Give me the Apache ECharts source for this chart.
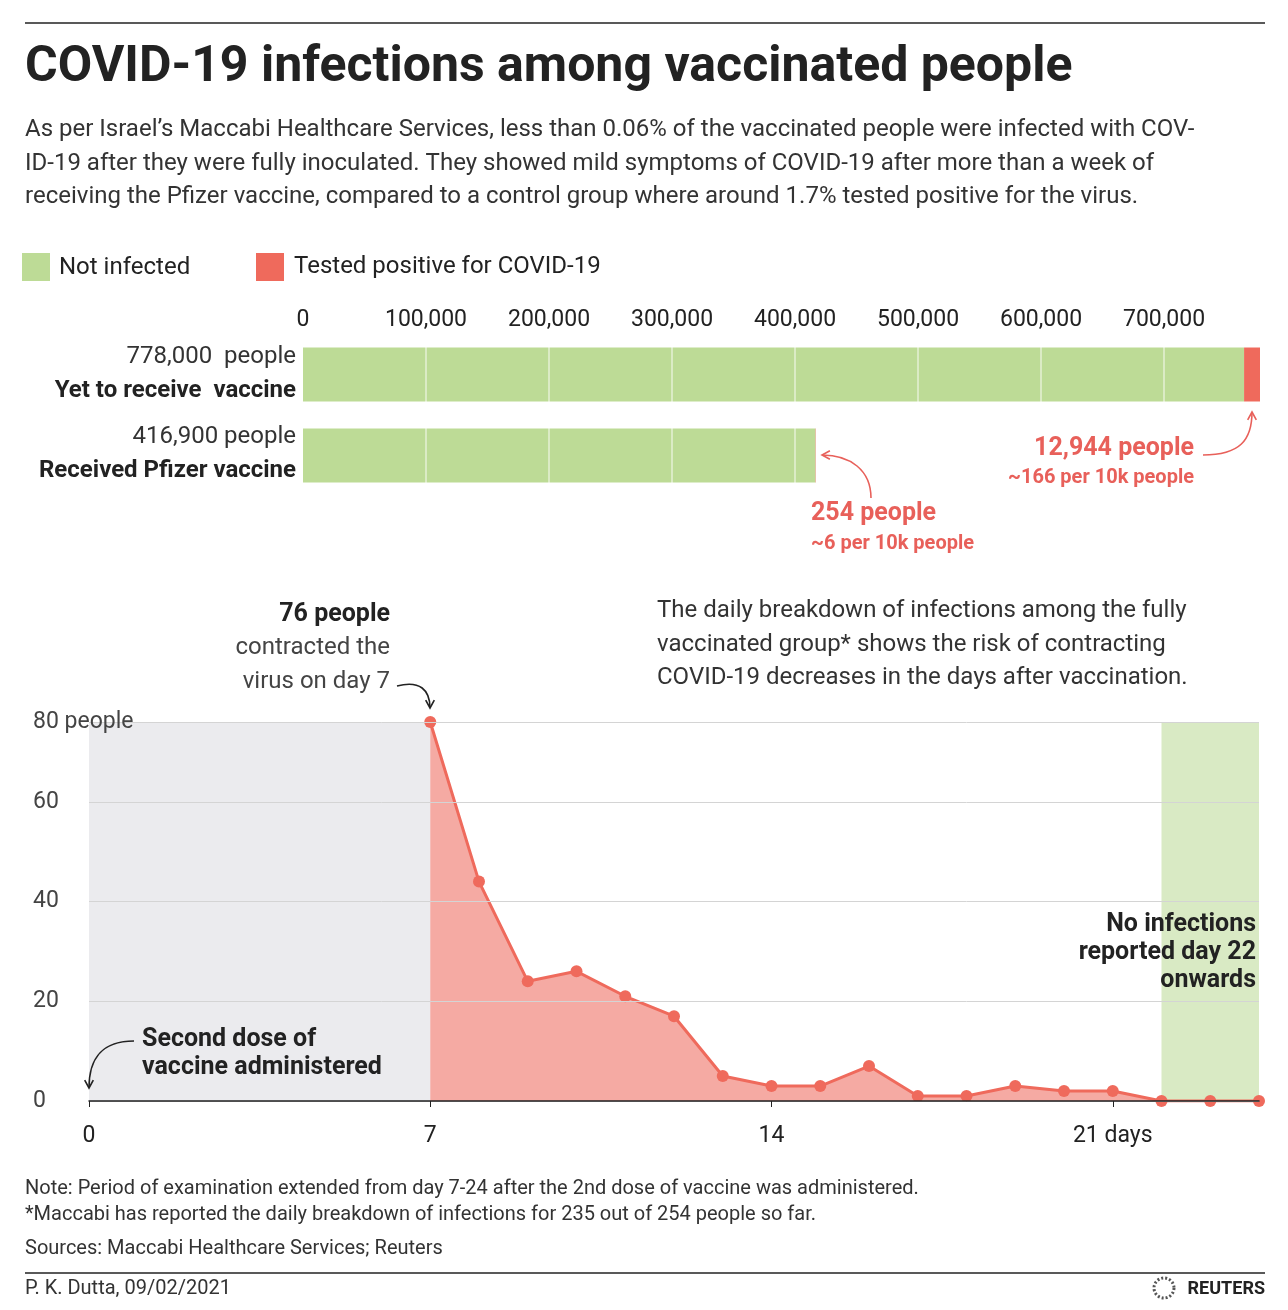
<!DOCTYPE html>
<html>
<head>
<meta charset="utf-8">
<script src="https://cdn.jsdelivr.net/npm/echarts@6/dist/echarts.min.js"></script>
<style>
  body { margin: 0; background: #fff; }
  #chart { width: 1288px; height: 1310px; }
</style>
</head>
<body>
<div id="chart"></div>
<script>
// bar part
const groups = ["Yet to receive  vaccine", "Received Pfizer vaccine"];
const groupTotals = ["778,000  people", "416,900 people"];
const notInfected = [765056, 416646];
const positive = [12944, 254];
const barTicks = [100000, 200000, 300000, 400000, 500000, 600000, 700000];

// daily breakdown, days 7..24
const days = [7, 8, 9, 10, 11, 12, 13, 14, 15, 16, 17, 18, 19, 20, 21, 22, 23, 24];
const dailyCases = [76, 44, 24, 26, 21, 17, 5, 3, 3, 7, 1, 1, 3, 2, 2, 0, 0, 0];

const GREEN = "#bddb96";
const RED = "#ef6a5c";
const TXT = "#222";
const FONT = "Roboto";

const chart = echarts.init(document.getElementById("chart"));

function txt(x, y, text, opt = {}) {
  return {
    type: "text", x, y, z: 100,
    style: Object.assign({ text, fill: TXT, font: `24px ${FONT}`, textVerticalAlign: "middle" }, opt),
  };
}
function arrowHead(x, y, angle, color) {
  const l = 9, w = 0.5;
  return {
    type: "polyline", z: 100,
    shape: { points: [
      [x - l * Math.cos(angle - w), y - l * Math.sin(angle - w)],
      [x, y],
      [x - l * Math.cos(angle + w), y - l * Math.sin(angle + w)],
    ] },
    style: { stroke: color, lineWidth: 1.6, fill: null },
  };
}
function curve(pts, color) {
  return {
    type: "bezierCurve", z: 100,
    shape: { x1: pts[0], y1: pts[1], cpx1: pts[2], cpy1: pts[3], cpx2: pts[4], cpy2: pts[5], x2: pts[6], y2: pts[7] },
    style: { stroke: color, lineWidth: 1.6, fill: null },
  };
}

const option = {
  animation: false,
  grid: [
    { left: 303, right: 28, top: 334, height: 162 },
    { left: 89, right: 29, top: 722, bottom: 209 },
  ],
  xAxis: [
    {
      gridIndex: 0, type: "value", min: 0, max: 778000, position: "top",
      interval: 100000,
      axisLine: { show: false }, axisTick: { show: false }, splitLine: { show: false },
      axisLabel: {
        color: TXT, fontSize: 23, fontFamily: FONT, margin: 2, showMaxLabel: false,
        formatter: (v) => v.toLocaleString("en-US"),
      },
    },
    {
      gridIndex: 1, type: "value", min: 0, max: 24, interval: 7, z: 10,
      axisLine: { lineStyle: { color: "#222", width: 1.5 } },
      axisTick: { show: true, length: 6, lineStyle: { color: "#222" } },
      splitLine: { show: false },
      axisLabel: {
        color: TXT, fontSize: 23, fontFamily: FONT, margin: 24, showMaxLabel: false,
        formatter: (v) => (v === 21 ? "21 days" : String(v)),
      },
    },
  ],
  yAxis: [
    {
      gridIndex: 0, type: "category", data: groups, inverse: true, show: false,
    },
    {
      gridIndex: 1, type: "value", min: 0, max: 76, interval: 20, z: 10,
      axisLine: { show: false }, axisTick: { show: false },
      splitLine: { lineStyle: { color: "#d4d4d4" } },
      axisLabel: {
        color: "#444", fontSize: 23, fontFamily: FONT, margin: 56, align: "left",
        formatter: (v) => (v === 76 ? "80 people" : String(v)),
      },
    },
  ],
  series: [
    {
      type: "bar", stack: "s", xAxisIndex: 0, yAxisIndex: 0, data: notInfected,
      barWidth: 54, itemStyle: { color: GREEN },
      markLine: {
        silent: true, symbol: "none", label: { show: false },
        lineStyle: { color: "rgba(255,255,255,0.45)", type: "solid", width: 2 },
        data: barTicks.map((v) => ({ xAxis: v })),
      },
    },
    {
      type: "bar", stack: "s", xAxisIndex: 0, yAxisIndex: 0, data: positive,
      barWidth: 54, itemStyle: { color: RED },
    },
    {
      type: "line", xAxisIndex: 1, yAxisIndex: 1,
      data: days.map((d, i) => [d, dailyCases[i]]),
      symbol: "circle", symbolSize: 12, z: 5,
      lineStyle: { color: RED, width: 3 }, itemStyle: { color: RED },
      areaStyle: { color: "#f5aaa3", opacity: 1 },
      markArea: {
        silent: true,
        data: [
          [{ xAxis: 0, yAxis: 0, itemStyle: { color: "#ebebee" } }, { xAxis: 7, yAxis: 76 }],
          [{ xAxis: 22, yAxis: 0, itemStyle: { color: "#d9eac4" } }, { xAxis: 24, yAxis: 76 }],
        ],
      },
    },
  ],
  graphic: [
    { type: "line", z: 100, shape: { x1: 25, y1: 23, x2: 1265, y2: 23 }, style: { stroke: "#222", lineWidth: 1.5 } },
    txt(25, 68, "COVID-19 infections among vaccinated people", { font: `bold 50px ${FONT}` }),
    txt(25, 130, "As per Israel’s Maccabi Healthcare Services, less than 0.06% of the vaccinated people were infected with COV-", { fill: "#333", font: `24px ${FONT}` }),
    txt(25, 164, "ID-19 after they were fully inoculated. They showed mild symptoms of COVID-19 after more than a week of", { fill: "#333", font: `24px ${FONT}` }),
    txt(25, 197, "receiving the Pfizer vaccine, compared to a control group where around 1.7% tested positive for the virus.", { fill: "#333", font: `24px ${FONT}` }),
    { type: "rect", z: 100, shape: { x: 22, y: 253, width: 28, height: 28 }, style: { fill: GREEN } },
    txt(59, 268, "Not infected"),
    { type: "rect", z: 100, shape: { x: 256, y: 253, width: 28, height: 28 }, style: { fill: RED } },
    txt(294, 267, "Tested positive for COVID-19"),
    txt(296, 357, groupTotals[0], { textAlign: "right", fill: "#333" }),
    txt(296, 391, groups[0], { textAlign: "right", font: `bold 24px ${FONT}` }),
    txt(296, 437, groupTotals[1], { textAlign: "right", fill: "#333" }),
    txt(296, 471, groups[1], { textAlign: "right", font: `bold 24px ${FONT}` }),
    txt(1194, 449, "12,944 people", { textAlign: "right", fill: "#e8605a", font: `bold 25px ${FONT}` }),
    txt(1194, 478, "~166 per 10k people", { textAlign: "right", fill: "#e8605a", font: `bold 20px ${FONT}` }),
    curve([1203, 455, 1240, 455, 1252, 440, 1252, 412], "#e8605a"),
    arrowHead(1252, 412, -Math.PI / 2, "#e8605a"),
    txt(811, 514, "254 people", { fill: "#e8605a", font: `bold 25px ${FONT}` }),
    txt(811, 544, "~6 per 10k people", { fill: "#e8605a", font: `bold 20px ${FONT}` }),
    curve([871, 498, 871, 470, 850, 455, 822, 455], "#e8605a"),
    arrowHead(822, 455, Math.PI, "#e8605a"),
    txt(390, 615, "76 people", { textAlign: "right", font: `bold 25px ${FONT}` }),
    txt(390, 648, "contracted the", { textAlign: "right", fill: "#444" }),
    txt(390, 682, "virus on day 7", { textAlign: "right", fill: "#444" }),
    curve([397, 686, 420, 680, 430, 690, 430, 708], "#222"),
    arrowHead(430, 708, Math.PI / 2, "#222"),
    txt(657, 611, "The daily breakdown of infections among the fully", { fill: "#333" }),
    txt(657, 645, "vaccinated group* shows the risk of contracting", { fill: "#333" }),
    txt(657, 678, "COVID-19 decreases in the days after vaccination.", { fill: "#333" }),
    txt(1256, 925, "No infections", { textAlign: "right", font: `bold 25px ${FONT}` }),
    txt(1256, 953, "reported day 22", { textAlign: "right", font: `bold 25px ${FONT}` }),
    txt(1256, 981, "onwards", { textAlign: "right", font: `bold 25px ${FONT}` }),
    txt(142, 1040, "Second dose of", { font: `bold 25px ${FONT}` }),
    txt(142, 1068, "vaccine administered", { font: `bold 25px ${FONT}` }),
    curve([134, 1041, 100, 1041, 89, 1060, 89, 1088], "#222"),
    arrowHead(89, 1088, Math.PI / 2, "#222"),
    txt(25, 1189, "Note: Period of examination extended from day 7-24 after the 2nd dose of vaccine was administered.", { fill: "#333", font: `20px ${FONT}` }),
    txt(25, 1215, "*Maccabi has reported the daily breakdown of infections for 235 out of 254 people so far.", { fill: "#333", font: `20px ${FONT}` }),
    txt(25, 1249, "Sources: Maccabi Healthcare Services; Reuters", { fill: "#333", font: `20px ${FONT}` }),
    { type: "line", z: 100, shape: { x1: 25, y1: 1273, x2: 1265, y2: 1273 }, style: { stroke: "#222", lineWidth: 1.5 } },
    txt(25, 1289, "P. K. Dutta, 09/02/2021", { fill: "#333", font: `20px ${FONT}` }),
    { type: "circle", z: 100, shape: { cx: 1164, cy: 1288, r: 10 }, style: { fill: null, stroke: "#555", lineWidth: 3, lineDash: [2, 2] } },
    txt(1265, 1289, "REUTERS", { textAlign: "right", font: `bold 18px ${FONT}` }),
  ],
};
chart.setOption(option);
</script>
</body>
</html>
